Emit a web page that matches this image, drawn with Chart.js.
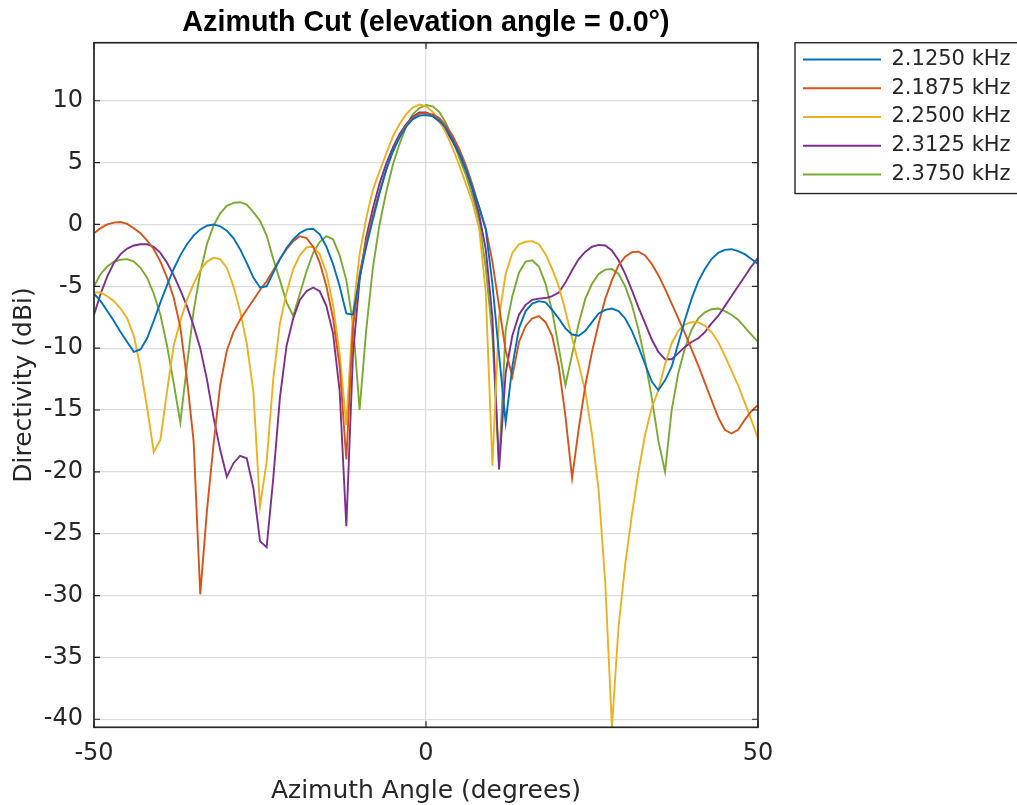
<!DOCTYPE html>
<html>
<head>
<meta charset="utf-8">
<script src="https://cdn.jsdelivr.net/npm/chart.js@4.4.1/dist/chart.umd.min.js"></script>
<style>
    html, body { margin: 0; padding: 0; background: #fff; }
</style>
</head>
<body>
<canvas id="azChart" width="1017" height="805"></canvas>
<script>
// azimuth angles (deg), 1 degree step
const azimuth = [
    -50, -49, -48, -47, -46, -45, -44, -43, -42, -41,
    -40, -39, -38, -37, -36, -35, -34, -33, -32, -31,
    -30, -29, -28, -27, -26, -25, -24, -23, -22, -21,
    -20, -19, -18, -17, -16, -15, -14, -13, -12, -11,
    -10, -9, -8, -7, -6, -5, -4, -3, -2, -1,
    0, 1, 2, 3, 4, 5, 6, 7, 8, 9,
    10, 11, 12, 13, 14, 15, 16, 17, 18, 19,
    20, 21, 22, 23, 24, 25, 26, 27, 28, 29,
    30, 31, 32, 33, 34, 35, 36, 37, 38, 39,
    40, 41, 42, 43, 44, 45, 46, 47, 48, 49,
    50
];

const freqLabels = ['2.1250 kHz', '2.1875 kHz', '2.2500 kHz', '2.3125 kHz', '2.3750 kHz'];

// directivity (dBi) per frequency
const dir2125 = [
    -5.6, -6.2, -7.0, -7.8, -8.7, -9.5, -10.3, -10.1, -9.2, -7.8,
    -6.3, -4.9, -3.6, -2.5, -1.6, -0.9, -0.4, -0.1, 0.0, -0.15,
    -0.5, -1.1, -2.0, -3.1, -4.3, -5.1, -5.0, -3.9, -2.8, -1.9,
    -1.2, -0.7, -0.4, -0.35, -0.8, -1.8, -3.2, -5.0, -7.2, -7.3,
    -4.3, -1.8, 0.4, 2.5, 4.4, 5.9, 7.0, 7.9, 8.5, 8.8,
    8.85, 8.75, 8.4, 7.8, 6.9, 5.8, 4.5, 3.0, 1.4, -0.4,
    -4.8, -10.5, -16.0, -11.5, -8.4, -7.0, -6.4, -6.2, -6.3, -6.9,
    -7.6, -8.4, -8.9, -9.0, -8.6, -7.9, -7.2, -6.9, -6.8, -7.0,
    -7.6, -8.6, -9.9, -11.3, -12.7, -13.4, -12.6, -11.5, -9.6, -7.7,
    -6.0, -4.6, -3.6, -2.8, -2.3, -2.05, -2.0, -2.15, -2.4, -2.8,
    -3.2
];
const dir21875 = [
    -0.7, -0.3, 0.0, 0.15, 0.2, 0.05, -0.3, -0.7, -1.3, -2.0,
    -3.0, -4.3, -5.9, -8.3, -12.5, -17.5, -29.9, -23.2, -17.8, -13.0,
    -10.2, -8.7, -7.7, -6.9, -6.1, -5.3, -4.6, -3.7, -2.8, -2.0,
    -1.35, -0.95, -1.1, -1.8, -3.1, -5.0, -7.6, -11.5, -19.0, -8.3,
    -4.0, -1.4, 0.7, 2.7, 4.4, 5.9, 7.1, 8.0, 8.6, 8.95,
    9.0, 8.9, 8.6, 8.0, 7.2, 6.1, 4.8, 3.2, 1.4, -0.3,
    -3.0, -6.6, -10.2, -12.3, -9.5, -8.2, -7.6, -7.4, -7.9, -9.0,
    -11.5, -15.5, -20.5, -16.5, -13.0, -10.3, -8.0, -6.0, -4.5, -3.3,
    -2.6, -2.25, -2.2, -2.5, -3.2, -4.1, -5.2, -6.4, -7.6, -8.8,
    -10.1, -11.4, -12.8, -14.2, -15.6, -16.6, -16.9, -16.6, -15.8, -15.1,
    -14.6
];
const dir2250 = [
    -5.5, -5.5, -5.8, -6.2, -6.8, -7.6, -9.0, -11.6, -14.8, -18.4,
    -17.4, -13.5, -9.8, -7.8, -6.1, -4.8, -3.7, -3.0, -2.7, -2.8,
    -3.5, -5.0, -7.0, -9.6, -13.5, -22.8, -19.2, -12.5, -8.0, -5.5,
    -3.6, -2.5, -1.85, -1.8, -2.4, -3.9, -6.5, -10.5, -16.2, -7.2,
    -2.4, 0.5, 2.8, 4.3, 5.7, 7.1, 8.1, 8.9, 9.45, 9.7,
    9.55, 9.1, 8.4, 7.4, 6.2, 4.8, 3.3, 1.8, -0.3, -5.5,
    -19.5, -7.5, -4.0, -2.3, -1.6, -1.4, -1.35, -1.6, -2.4, -3.6,
    -5.0, -7.0, -9.2, -11.3, -13.5, -17.0, -21.5, -29.0, -40.65, -32.5,
    -27.5, -23.5, -20.0, -17.0, -14.8, -13.4, -11.3, -9.6, -8.6, -8.1,
    -7.9, -7.9, -8.2, -8.7, -9.5, -10.6, -11.8, -13.0, -14.4, -15.8,
    -17.3
];
const dir23125 = [
    -7.3, -5.6, -4.2, -3.1, -2.4, -1.95, -1.7, -1.6, -1.6, -1.8,
    -2.3, -3.1, -4.1, -5.3, -6.6, -8.2, -10.0, -12.5, -15.6, -18.2,
    -20.4, -19.3, -18.7, -18.9, -21.3, -25.6, -26.1, -20.5, -14.0, -9.8,
    -7.6, -6.1, -5.4, -5.1, -5.4, -6.6, -8.8, -13.5, -24.4, -10.5,
    -4.5, -1.0, 1.3, 3.3, 4.9, 6.2, 7.3, 8.1, 8.7, 9.05,
    9.05, 8.8, 8.3, 7.6, 6.7, 5.7, 4.4, 2.8, 0.8, -2.0,
    -7.5, -19.8, -12.0, -9.0, -7.3, -6.5, -6.1, -6.0, -5.95, -5.8,
    -5.5, -4.7, -3.7, -2.8, -2.2, -1.8, -1.65, -1.7, -2.1, -2.9,
    -4.0, -5.3, -6.7, -8.0, -9.3, -10.3, -10.9, -10.9, -10.4, -9.9,
    -9.5, -9.2, -8.7, -8.0, -7.4, -6.6, -5.8, -5.0, -4.2, -3.4,
    -2.7
];
const dir2375 = [
    -5.0, -4.0, -3.4, -3.0, -2.85, -2.8, -3.0, -3.5, -4.3, -5.6,
    -7.3, -9.8, -12.8, -16.0, -11.4, -7.0, -3.9, -1.6, -0.1, 0.9,
    1.5, 1.75, 1.8, 1.6, 1.0, 0.3, -0.9, -2.8, -4.5, -6.3,
    -7.4, -5.6, -3.8, -2.3, -1.4, -0.95, -1.2, -2.5, -4.5, -8.0,
    -15.0, -8.5, -3.5, 0.0, 2.6, 4.8, 6.5, 7.9, 8.9, 9.4,
    9.65, 9.55, 9.1, 8.2, 6.9, 5.4, 4.0, 2.3, 0.3, -3.5,
    -9.0, -19.5, -8.5, -5.8, -3.9, -3.0, -2.9, -3.4, -4.8, -7.0,
    -10.0, -13.0, -10.5, -8.0, -6.0, -4.8, -4.0, -3.65, -3.6, -4.0,
    -5.0, -6.5, -8.5, -11.0, -14.0, -17.5, -20.0, -15.0, -12.0, -10.0,
    -8.5, -7.6, -7.1, -6.85, -6.8, -7.0, -7.3, -7.7, -8.3, -8.9,
    -9.5
];

const xTicks = [-50, 0, 50];
const yTicks = [-40, -35, -30, -25, -20, -15, -10, -5, 0, 5, 10];

const lineColors = ['#0072BD', '#D95319', '#EDB120', '#7E2F8E', '#77AC30'];
const seriesValues = [dir2125, dir21875, dir2250, dir23125, dir2375];

const axisInk = '#262626';
const gridInk = '#dcdcdc';

Chart.defaults.font.family = 'DejaVu Sans';
Chart.defaults.color = axisInk;

// MATLAB style box, inward ticks and legend frame
const boxPlugin = {
    id: 'boxPlugin',
    afterLayout(chart) {
        // legend sits a bit away from the axes and runs off the right edge
        const lg = chart.legend;
        const a = chart.chartArea;
        const pad = lg.options.labels.padding;
        const fs = lg.options.labels.font.size;
        const h = lg.height;
        lg.left = a.right + 45 - pad;
        lg.width = 400;
        lg.right = lg.left + 400;
        lg.top = a.top + 16.8 - pad - fs / 2;
        lg.bottom = lg.top + h;
    },
    afterDraw(chart) {
        const {ctx, chartArea: a, scales} = chart;
        ctx.save();
        ctx.strokeStyle = axisInk;
        ctx.lineWidth = 1.2;
        ctx.beginPath();
        scales.y.ticks.forEach(t => {
            const py = scales.y.getPixelForValue(t.value);
            ctx.moveTo(a.left, py);
            ctx.lineTo(a.left + 6, py);
            ctx.moveTo(a.right, py);
            ctx.lineTo(a.right - 6, py);
        });
        scales.x.ticks.forEach(t => {
            const px = scales.x.getPixelForValue(t.value);
            ctx.moveTo(px, a.bottom);
            ctx.lineTo(px, a.bottom - 6);
            ctx.moveTo(px, a.top);
            ctx.lineTo(px, a.top + 6);
        });
        ctx.stroke();

        ctx.lineWidth = 1.7;
        ctx.strokeRect(a.left, a.top, a.right - a.left, a.bottom - a.top);

        const lg = chart.legend;
        const rowH = lg.options.labels.font.size + lg.options.labels.padding;
        ctx.lineWidth = 1.4;
        ctx.strokeRect(a.right + 37, a.top, 400, 16.8 + 4 * rowH + 19);
        ctx.restore();
    }
};

const ctx = document.getElementById('azChart').getContext('2d');
const chart = new Chart(ctx, {
    type: 'line',
    data: {
        datasets: seriesValues.map((vals, i) => ({
            label: freqLabels[i],
            data: azimuth.map((az, j) => ({x: az, y: vals[j]})),
            borderColor: lineColors[i],
            backgroundColor: lineColors[i],
            borderWidth: 1.9,
            pointRadius: 0,
            tension: 0,
            fill: false
        }))
    },
    options: {
        responsive: false,
        animation: false,
        devicePixelRatio: 1,
        layout: { padding: { left: 0, top: 0, right: 59, bottom: 0 } },
        plugins: {
            title: {
                display: true,
                text: 'Azimuth Cut (elevation angle = 0.0°)',
                fullSize: false,
                color: '#000',
                font: { family: 'Liberation Sans', size: 28.7, weight: 'bold' },
                padding: { top: 6, bottom: 2.3 }
            },
            legend: {
                position: 'right',
                align: 'start',
                maxWidth: 200,
                labels: {
                    usePointStyle: true,
                    pointStyle: 'line',
                    pointStyleWidth: 78,
                    padding: 7.75,
                    color: axisInk,
                    font: { family: 'DejaVu Sans', size: 21 }
                }
            },
            tooltip: { enabled: false }
        },
        scales: {
            x: {
                type: 'linear',
                min: -50,
                max: 50,
                afterBuildTicks: s => { s.ticks = xTicks.map(v => ({value: v})); },
                afterFit: s => { s.height = 77.7; },
                grid: { color: gridInk, lineWidth: 1.3, drawTicks: false },
                border: { display: false },
                ticks: { font: { size: 24 }, padding: 12, maxRotation: 0, autoSkip: false },
                title: {
                    display: true,
                    text: 'Azimuth Angle (degrees)',
                    font: { size: 25 },
                    padding: { top: 0, bottom: -1 }
                }
            },
            y: {
                min: -40.65,
                max: 14.69,
                afterBuildTicks: s => { s.ticks = yTicks.map(v => ({value: v})); },
                afterFit: s => { s.width = 94; },
                grid: { color: gridInk, lineWidth: 1.3, drawTicks: false },
                border: { display: false },
                ticks: { font: { size: 24 }, padding: 11, autoSkip: false },
                title: {
                    display: true,
                    text: 'Directivity (dBi)',
                    font: { size: 25 },
                    padding: { top: 9, bottom: 0 }
                }
            }
        }
    },
    plugins: [boxPlugin]
});
</script>
</body>
</html>
